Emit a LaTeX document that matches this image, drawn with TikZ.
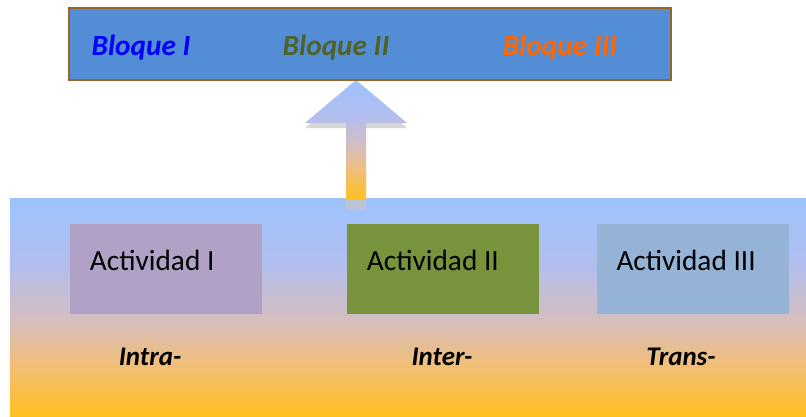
\documentclass[tikz,border=0pt]{standalone}
\usepackage{fontspec}
\setmainfont{Carlito}
\usetikzlibrary{calc}

\definecolor{azulcl}{RGB}{157,195,255}
\definecolor{medio1}{RGB}{178,190,238}
\definecolor{medio2}{RGB}{212,190,192}
\definecolor{medio3}{RGB}{240,190,125}
\definecolor{naranja}{RGB}{255,192,30}
\definecolor{azulbloque}{RGB}{83,141,213}
\definecolor{marron}{RGB}{152,100,40}
\definecolor{verdeosc}{RGB}{79,98,40}
\definecolor{naranjatx}{RGB}{255,102,0}
\definecolor{lila}{RGB}{177,161,199}
\definecolor{oliva}{RGB}{119,147,60}
\definecolor{celeste}{RGB}{149,179,215}

\pgfdeclareverticalshading{cielo}{100bp}{color(0bp)=(naranja); color(25bp)=(naranja);
  color(37.5bp)=(medio3); color(47.5bp)=(medio2); color(60bp)=(medio1);
  color(75bp)=(azulcl); color(100bp)=(azulcl)}

\tikzset{
  fondo/.style={shade, shading=cielo, minimum width=23.88cm, minimum height=6.51cm, inner sep=0pt},
  barra/.style={draw=marron, line width=1.5pt, fill=azulbloque, minimum width=18.06cm, minimum height=2.16cm, inner sep=0pt},
  bloque/.style={font=\fontsize{25}{28}\selectfont\bfseries\itshape, anchor=base},
  actbox/.style={minimum width=5.76cm, minimum height=2.7cm, inner sep=0pt},
  acttext/.style={font=\fontsize{25}{28}\selectfont, anchor=base west, inner sep=0pt},
  nivel/.style={font=\fontsize{23}{26}\selectfont\bfseries\itshape, anchor=base},
}

\begin{document}
\begin{tikzpicture}[x=0.03cm, y=-0.03cm]
    \useasboundingbox (0,0) rectangle (806,416);

    % Fondo
    \node[fondo] (fondo) at (408,307.5) {};

    % Flecha
    \coordinate (punta) at (356,80);
    \fill[gray!45, opacity=0.7] ($(punta)+(0,5)$) -- ++(51,43) -- ++(-41,0) -- ++(0,82)
        -- ++(-20,0) -- ++(0,-82) -- ++(-41,0) -- cycle;
    \shade[shading=cielo]
        (punta) -- ++(51,43) -- ++(-41,0) -- ++(0,76) -- ++(-20,0) -- ++(0,-76) -- ++(-41,0) -- cycle;

    % Bloques
    \node[barra] (bloques) at (370,44) {};
    \node[bloque, text=blue] (b1) at (141,55) {Bloque I};
    \node[bloque, text=verdeosc] (b2) at (336,55) {Bloque II};
    \node[bloque, text=naranjatx] (b3) at (560,55) {Bloque III};

    % Actividades
    \node[actbox, fill=lila] (a1) at (166,269) {};
    \node[actbox, fill=oliva] (a2) at (443,269) {};
    \node[actbox, fill=celeste] (a3) at (692.5,269) {};
    \node[acttext] (t1) at ($(a1.north west)+(20,47)$) {Actividad I};
    \node[acttext] (t2) at ($(a2.north west)+(20,47)$) {Actividad II};
    \node[acttext] (t3) at ($(a3.north west)+(20,47)$) {Actividad III};

    % Niveles
    \node[nivel] (n1) at (150,365) {Intra-};
    \node[nivel] (n2) at (442,365) {Inter-};
    \node[nivel] (n3) at (681,365) {Trans-};
\end{tikzpicture}
\end{document}
